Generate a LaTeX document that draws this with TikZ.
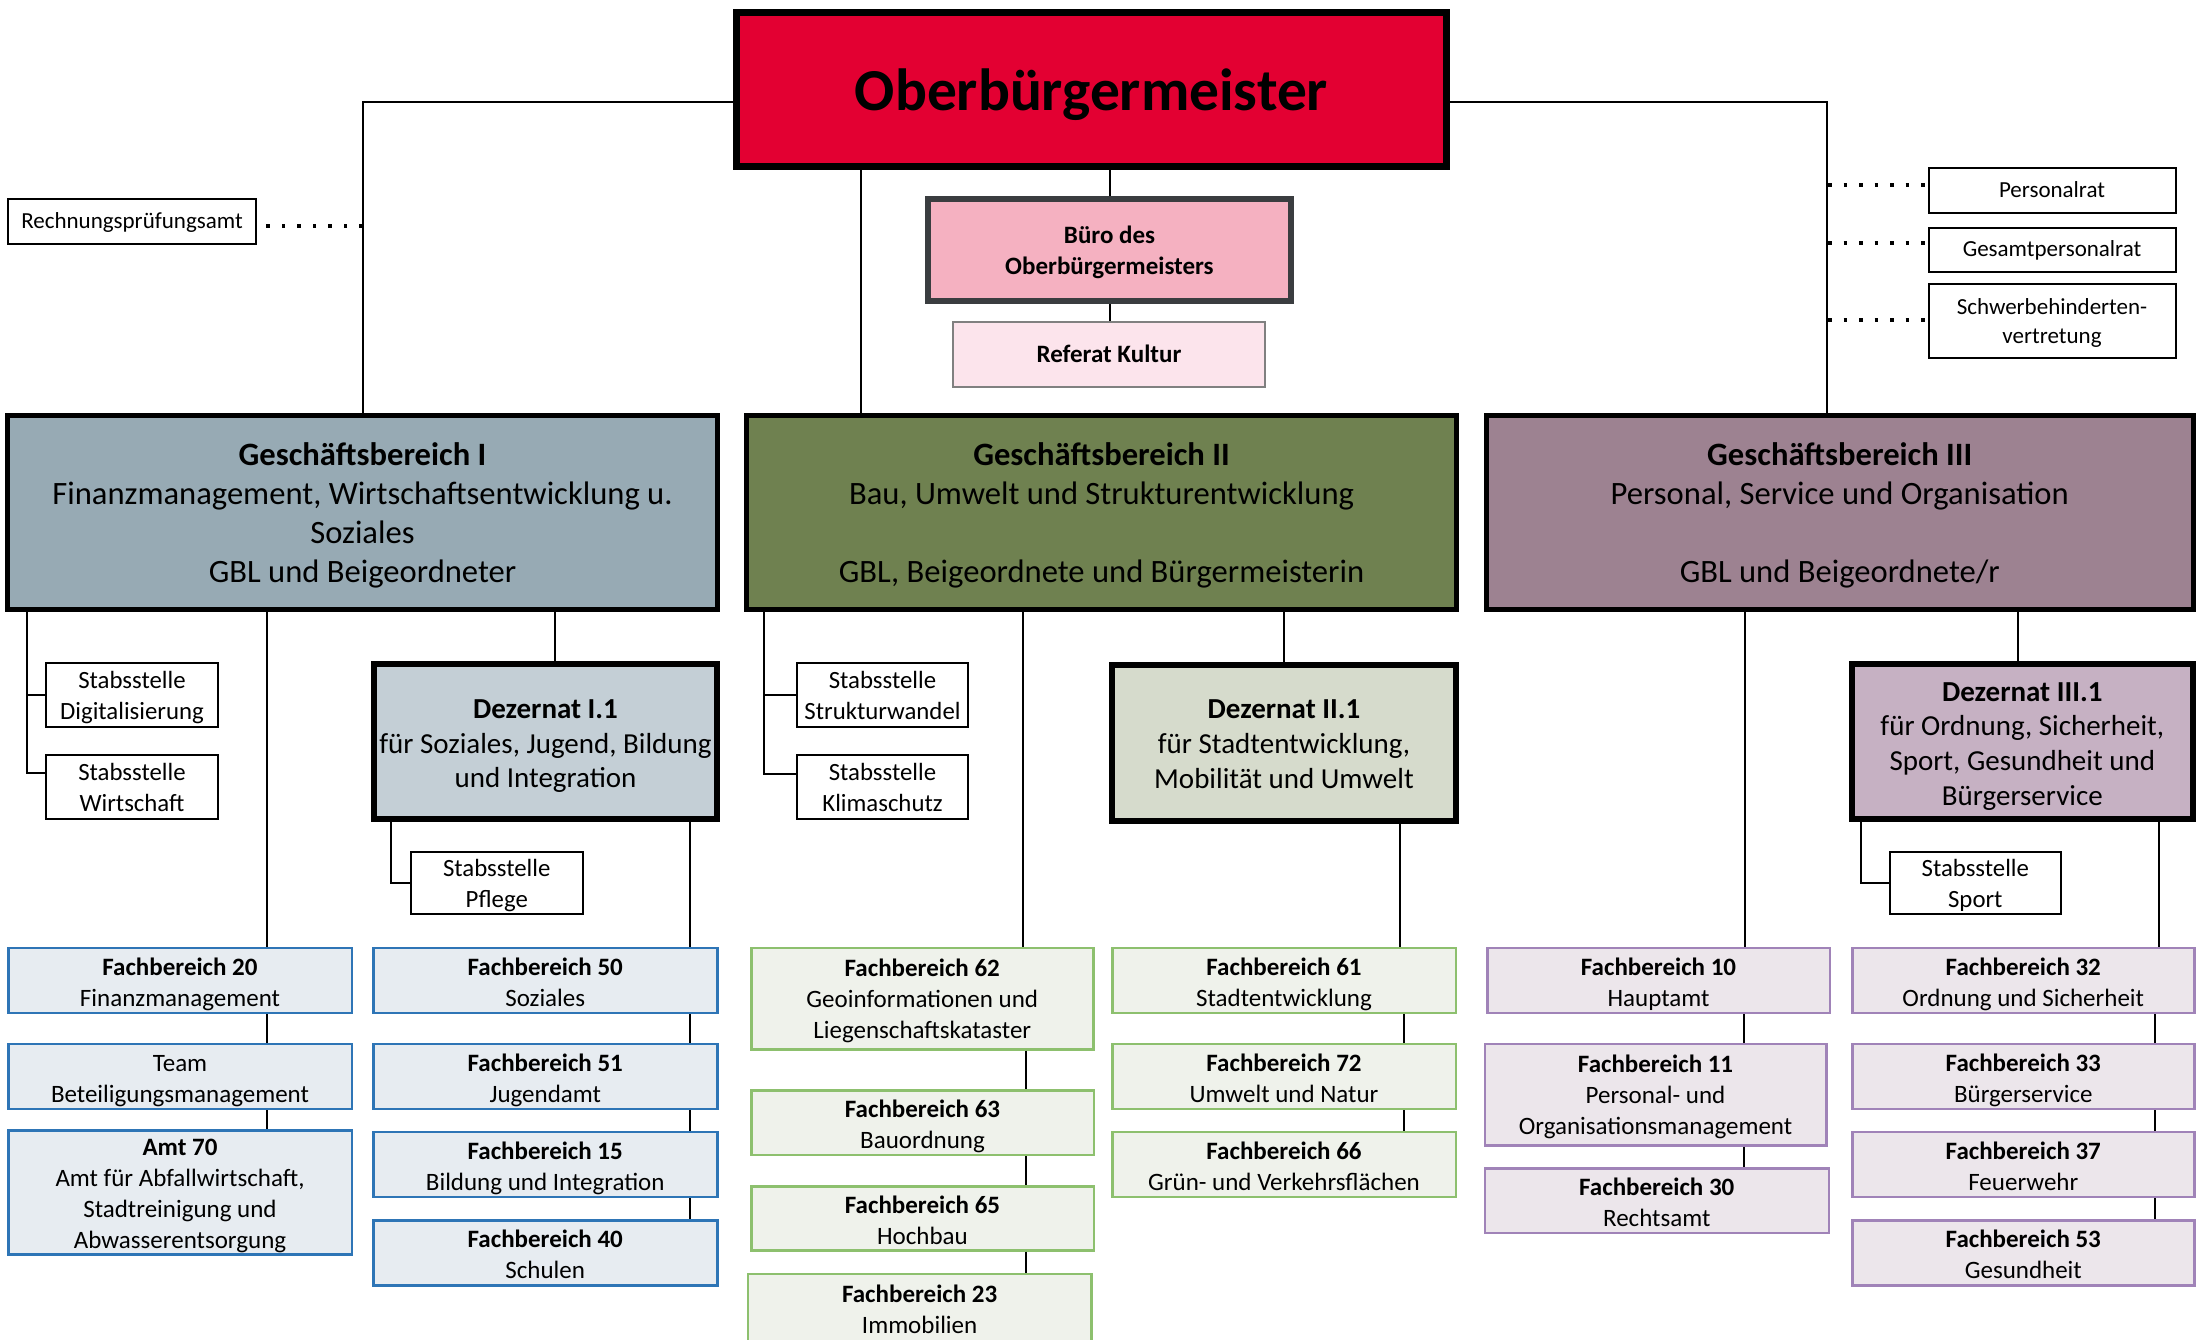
\documentclass[tikz,border=0pt]{standalone}
\usepackage{fontspec}
\setmainfont{Carlito}
\definecolor{obred}{HTML}{E30032}
\definecolor{bueroFill}{HTML}{F5B1C1}
\definecolor{bueroDraw}{HTML}{3A3D40}
\definecolor{refFill}{HTML}{FCE4EC}
\definecolor{refDraw}{HTML}{808080}
\definecolor{gbOne}{HTML}{97AAB4}
\definecolor{gbTwo}{HTML}{6F8150}
\definecolor{gbThree}{HTML}{9D8291}
\definecolor{dezOne}{HTML}{C4CFD6}
\definecolor{dezTwo}{HTML}{D6DBCC}
\definecolor{dezThree}{HTML}{C6B1C3}
\definecolor{fbBlueFill}{HTML}{E7ECF1}
\definecolor{fbBlueDraw}{HTML}{2E75B6}
\definecolor{fbGreenFill}{HTML}{EFF2EB}
\definecolor{fbGreenDraw}{HTML}{8DC06E}
\definecolor{fbPurpFill}{HTML}{ECE6EB}
\definecolor{fbPurpDraw}{HTML}{A083B8}
% multi-line text, lowered a little without changing its box
\newcommand\bx[2][4pt]{\raisebox{-#1}[\height][\depth]{\begin{tabular}{@{}c@{}}#2\end{tabular}}}
\tikzset{
  base/.style={rectangle, inner sep=0pt, text=black},
  obbox/.style={base, fill=obred, draw=black, line width=7pt, font=\fontsize{59.5}{70}\selectfont\bfseries},
  buerobox/.style={base, fill=bueroFill, draw=bueroDraw, line width=6pt, font=\fontsize{25}{30.5}\selectfont\bfseries},
  refbox/.style={base, fill=refFill, draw=refDraw, line width=2pt, font=\fontsize{25}{30.5}\selectfont\bfseries},
  gbbox/.style={base, draw=black, line width=5pt, font=\fontsize{32.6}{39}\selectfont, minimum height=194pt},
  dezbox/.style={base, draw=black, line width=6pt, font=\fontsize{29}{34.6}\selectfont},
  stabbox/.style={base, fill=white, draw=black, line width=2pt, font=\fontsize{24.8}{30.5}\selectfont},
  smallbox/.style={base, fill=white, draw=black, line width=2pt, font=\fontsize{23}{29.5}\selectfont},
  fbbox/.style={base, line width=2.5pt, font=\fontsize{25}{31}\selectfont},
  fbblue/.style={fbbox, fill=fbBlueFill, draw=fbBlueDraw},
  fbgreen/.style={fbbox, fill=fbGreenFill, draw=fbGreenDraw},
  fbpurp/.style={fbbox, fill=fbPurpFill, draw=fbPurpDraw},
  conn/.style={draw=black, line width=2pt},
  dotl/.style={draw=black, line width=3.5pt, dash pattern=on 3.5pt off 12pt},
}
\begin{document}
\begin{tikzpicture}[x=1pt,y=-1pt]
\useasboundingbox (0,0) rectangle (2197,1339);
\clip (0,0) rectangle (2197,1339);
\fill[white] (0,0) rectangle (2197,1339);

% top level
\node[obbox, minimum width=710pt, minimum height=154pt] (ob) at (1091.5,89.5) {\bx[7pt]{Oberbürgermeister}};
\node[buerobox, minimum width=363pt, minimum height=102pt] (buero) at (1109.5,250) {\bx[3pt]{Büro des\\Oberbürgermeisters}};
\node[refbox, minimum width=312.5pt, minimum height=65pt] (referat) at (1109,354.5) {\bx[1.5pt]{Referat Kultur}};
\node[smallbox, minimum width=248pt, minimum height=45pt] (rpa) at (132,221.5) {\bx[1pt]{Rechnungsprüfungsamt}};
\node[smallbox, minimum width=247pt, minimum height=45pt] (personalrat) at (2052,190.5) {\bx[1pt]{Personalrat}};
\node[smallbox, minimum width=247pt, minimum height=44pt] (gesamt) at (2052,250) {\bx[1pt]{Gesamtpersonalrat}};
\node[smallbox, minimum width=247pt, minimum height=74pt] (schwer) at (2052,321) {\bx[2pt]{Schwerbehinderten-\\vertretung}};

% Geschaeftsbereiche
\node[gbbox, fill=gbOne, minimum width=710pt] (gb1) at (362.5,512.5) {\bx[3.5pt]{\textbf{Geschäftsbereich I}\\Finanzmanagement, Wirtschaftsentwicklung u.\\Soziales\\GBL und Beigeordneter}};
\node[gbbox, fill=gbTwo, minimum width=710pt] (gb2) at (1101.5,512.5) {\bx[3.5pt]{\textbf{Geschäftsbereich II}\\Bau, Umwelt und Strukturentwicklung\\~\\GBL, Beigeordnete und Bürgermeisterin}};
\node[gbbox, fill=gbThree, minimum width=707.5pt] (gb3) at (1839.75,512.5) {\bx[3.5pt]{\textbf{Geschäftsbereich III}\\Personal, Service und Organisation\\~\\GBL und Beigeordnete/r}};

% Dezernate
\node[dezbox, fill=dezOne, minimum width=343pt, minimum height=155pt] (dez1) at (545.5,741.2) {\bx[5pt]{\textbf{Dezernat I.1}\\für Soziales, Jugend, Bildung\\und Integration}};
\node[dezbox, fill=dezTwo, minimum width=344pt, minimum height=156pt] (dez2) at (1284,743) {\bx[3.5pt]{\textbf{Dezernat II.1}\\für Stadtentwicklung,\\Mobilität und Umwelt}};
\node[dezbox, fill=dezThree, minimum width=340.6pt, minimum height=155pt] (dez3) at (2022.3,741.2) {\bx[5pt]{\textbf{Dezernat III.1}\\für Ordnung, Sicherheit,\\Sport, Gesundheit und\\Bürgerservice}};

% Stabsstellen
\node[stabbox, minimum width=172pt, minimum height=64pt] (stD) at (132,695) {\bx[3pt]{Stabsstelle\\Digitalisierung}};
\node[stabbox, minimum width=172pt, minimum height=64pt] (stW) at (132,787) {\bx[3pt]{Stabsstelle\\Wirtschaft}};
\node[stabbox, minimum width=171.5pt, minimum height=62pt] (pflege) at (496.75,883) {\bx[3pt]{Stabsstelle\\Pflege}};
\node[stabbox, minimum width=171pt, minimum height=64pt] (stSW) at (882.5,695) {\bx[3pt]{Stabsstelle\\Strukturwandel}};
\node[stabbox, minimum width=171pt, minimum height=64pt] (stKS) at (882.5,787) {\bx[3pt]{Stabsstelle\\Klimaschutz}};
\node[stabbox, minimum width=170.6pt, minimum height=62pt] (sport) at (1975.3,883) {\bx[3pt]{Stabsstelle\\Sport}};

% Fachbereiche I
\node[fbblue, minimum width=343.5pt, minimum height=64.8pt] (fb20) at (180,980.35) {\bx{\textbf{Fachbereich 20}\\Finanzmanagement}};
\node[fbblue, minimum width=343.5pt, minimum height=64.8pt] (team) at (180,1076.35) {\bx{Team\\Beteiligungsmanagement}};
\node[fbblue, minimum width=343.5pt, minimum height=120.8pt] (amt70) at (180,1192.35) {\bx[3.5pt]{\textbf{Amt 70}\\Amt für Abfallwirtschaft,\\Stadtreinigung und\\Abwasserentsorgung}};
\node[fbblue, minimum width=344pt, minimum height=64.8pt] (fb50) at (545.25,980.35) {\bx{\textbf{Fachbereich 50}\\Soziales}};
\node[fbblue, minimum width=344pt, minimum height=64.8pt] (fb51) at (545.25,1076.35) {\bx{\textbf{Fachbereich 51}\\Jugendamt}};
\node[fbblue, minimum width=344pt, minimum height=64.8pt] (fb15) at (545.25,1164.35) {\bx{\textbf{Fachbereich 15}\\Bildung und Integration}};
\node[fbblue, minimum width=344pt, minimum height=65.2pt] (fb40) at (545.25,1252.85) {\bx{\textbf{Fachbereich 40}\\Schulen}};

% Fachbereiche II
\node[fbgreen, minimum width=342pt, minimum height=101.5pt] (fb62) at (922.25,998.7) {\bx[3pt]{\textbf{Fachbereich 62}\\Geoinformationen und\\Liegenschaftskataster}};
\node[fbgreen, minimum width=342.5pt, minimum height=64.5pt] (fb63) at (922.5,1122.5) {\bx{\textbf{Fachbereich 63}\\Bauordnung}};
\node[fbgreen, minimum width=342.5pt, minimum height=64.2pt] (fb65) at (922.5,1218.35) {\bx{\textbf{Fachbereich 65}\\Hochbau}};
\node[fbgreen, minimum width=343.4pt, minimum height=70.8pt] (fb23) at (919.65,1309.35) {\bx[2pt]{\textbf{Fachbereich 23}\\Immobilien}};
\node[fbgreen, minimum width=343.5pt, minimum height=64.8pt] (fb61) at (1284,980.35) {\bx{\textbf{Fachbereich 61}\\Stadtentwicklung}};
\node[fbgreen, minimum width=343.5pt, minimum height=64.8pt] (fb72) at (1284,1076.35) {\bx{\textbf{Fachbereich 72}\\Umwelt und Natur}};
\node[fbgreen, minimum width=343.5pt, minimum height=64.8pt] (fb66) at (1284,1164.35) {\bx{\textbf{Fachbereich 66}\\Grün- und Verkehrsflächen}};

% Fachbereiche III
\node[fbpurp, minimum width=342.5pt, minimum height=64.8pt] (fb10) at (1658.5,980.35) {\bx{\textbf{Fachbereich 10}\\Hauptamt}};
\node[fbpurp, minimum width=341.5pt, minimum height=101.5pt] (fb11) at (1655.55,1094.7) {\bx[3pt]{\textbf{Fachbereich 11}\\Personal- und\\Organisationsmanagement}};
\node[fbpurp, minimum width=344pt, minimum height=64.5pt] (fb30) at (1656.75,1200.5) {\bx{\textbf{Fachbereich 30}\\Rechtsamt}};
\node[fbpurp, minimum width=342.1pt, minimum height=64.8pt] (fb32) at (2023.3,980.35) {\bx{\textbf{Fachbereich 32}\\Ordnung und Sicherheit}};
\node[fbpurp, minimum width=342.1pt, minimum height=64.8pt] (fb33) at (2023.3,1076.35) {\bx{\textbf{Fachbereich 33}\\Bürgerservice}};
\node[fbpurp, minimum width=342.1pt, minimum height=64.8pt] (fb37) at (2023.3,1164.35) {\bx{\textbf{Fachbereich 37}\\Feuerwehr}};
\node[fbpurp, minimum width=342.1pt, minimum height=65.2pt] (fb53) at (2023.3,1252.85) {\bx{\textbf{Fachbereich 53}\\Gesundheit}};

% helper coordinates
\coordinate (yTop) at (0,102);
\coordinate (yDr) at (0,226);
\coordinate (yD1) at (0,185);
\coordinate (yD2) at (0,243);
\coordinate (yD3) at (0,320);
\coordinate (xMid) at (861,0);
\coordinate (xR) at (1827,0);
\coordinate (xS1) at (27,0);
\coordinate (yS1) at (0,773);
\coordinate (xF1) at (266.5,0);
\coordinate (xD1) at (555,0);
\coordinate (xP) at (391,0);
\coordinate (xF5) at (690,0);
\coordinate (xS2) at (763.5,0);
\coordinate (yS2) at (0,774);
\coordinate (xG2) at (1023,0);
\coordinate (xF6) at (1026,0);
\coordinate (xD2) at (1400,0);
\coordinate (xF7) at (1404,0);
\coordinate (xG3) at (1745,0);
\coordinate (xF10) at (1744,0);
\coordinate (xD3) at (2018,0);
\coordinate (xSp) at (1860.5,0);
\coordinate (xE3) at (2159,0);
\coordinate (xF3) at (2155,0);

% connectors top
\draw[conn] (ob.west |- yTop) -| (gb1.north);
\draw[conn] (ob.east |- yTop) -| (xR |- gb3.north);
\draw[conn] (xMid |- ob.south) -- (xMid |- gb2.north);
\draw[conn] (buero.north) -- (buero.north |- ob.south);
\draw[conn] (buero.south) -- (buero.south |- referat.north);
\draw[dotl, shorten >=9pt] (gb1.north |- yDr) -- (rpa.east |- yDr);
\draw[dotl, shorten <=1pt] (xR |- yD1) -- (personalrat.west |- yD1);
\draw[dotl, shorten <=1pt] (xR |- yD2) -- (gesamt.west |- yD2);
\draw[dotl, shorten <=1pt] (xR |- yD3) -- (schwer.west |- yD3);

% GB I
\draw[conn] (xS1 |- gb1.south) |- (stW.west |- yS1);
\draw[conn] (xS1 |- stD.west) -- (stD.west);
\draw[conn] (xF1 |- gb1.south) -- (xF1 |- fb20.north);
\draw[conn] (xF1 |- fb20.south) -- (xF1 |- team.north);
\draw[conn] (xF1 |- team.south) -- (xF1 |- amt70.north);
\draw[conn] (xD1 |- gb1.south) -- (xD1 |- dez1.north);
\draw[conn] (xP |- dez1.south) |- (pflege.west);
\draw[conn] (xF5 |- dez1.south) -- (xF5 |- fb50.north);
\draw[conn] (xF5 |- fb50.south) -- (xF5 |- fb51.north);
\draw[conn] (xF5 |- fb51.south) -- (xF5 |- fb15.north);
\draw[conn] (xF5 |- fb15.south) -- (xF5 |- fb40.north);

% GB II
\draw[conn] (xS2 |- gb2.south) |- (stKS.west |- yS2);
\draw[conn] (xS2 |- stSW.west) -- (stSW.west);
\draw[conn] (xG2 |- gb2.south) -- (xG2 |- fb62.north);
\draw[conn] (xF6 |- fb62.south) -- (xF6 |- fb63.north);
\draw[conn] (xF6 |- fb63.south) -- (xF6 |- fb65.north);
\draw[conn] (xF6 |- fb65.south) -- (xF6 |- fb23.north);
\draw[conn] (gb2.south -| dez2.north) -- (dez2.north);
\draw[conn] (xD2 |- dez2.south) -- (xD2 |- fb61.north);
\draw[conn] (xF7 |- fb61.south) -- (xF7 |- fb72.north);
\draw[conn] (xF7 |- fb72.south) -- (xF7 |- fb66.north);

% GB III
\draw[conn] (xG3 |- gb3.south) -- (xG3 |- fb10.north);
\draw[conn] (xF10 |- fb10.south) -- (xF10 |- fb11.north);
\draw[conn] (xF10 |- fb11.south) -- (xF10 |- fb30.north);
\draw[conn] (xD3 |- gb3.south) -- (xD3 |- dez3.north);
\draw[conn] (xSp |- dez3.south) |- (sport.west);
\draw[conn] (xE3 |- dez3.south) -- (xE3 |- fb32.north);
\draw[conn] (xF3 |- fb32.south) -- (xF3 |- fb33.north);
\draw[conn] (xF3 |- fb33.south) -- (xF3 |- fb37.north);
\draw[conn] (xF3 |- fb37.south) -- (xF3 |- fb53.north);
\end{tikzpicture}
\end{document}
